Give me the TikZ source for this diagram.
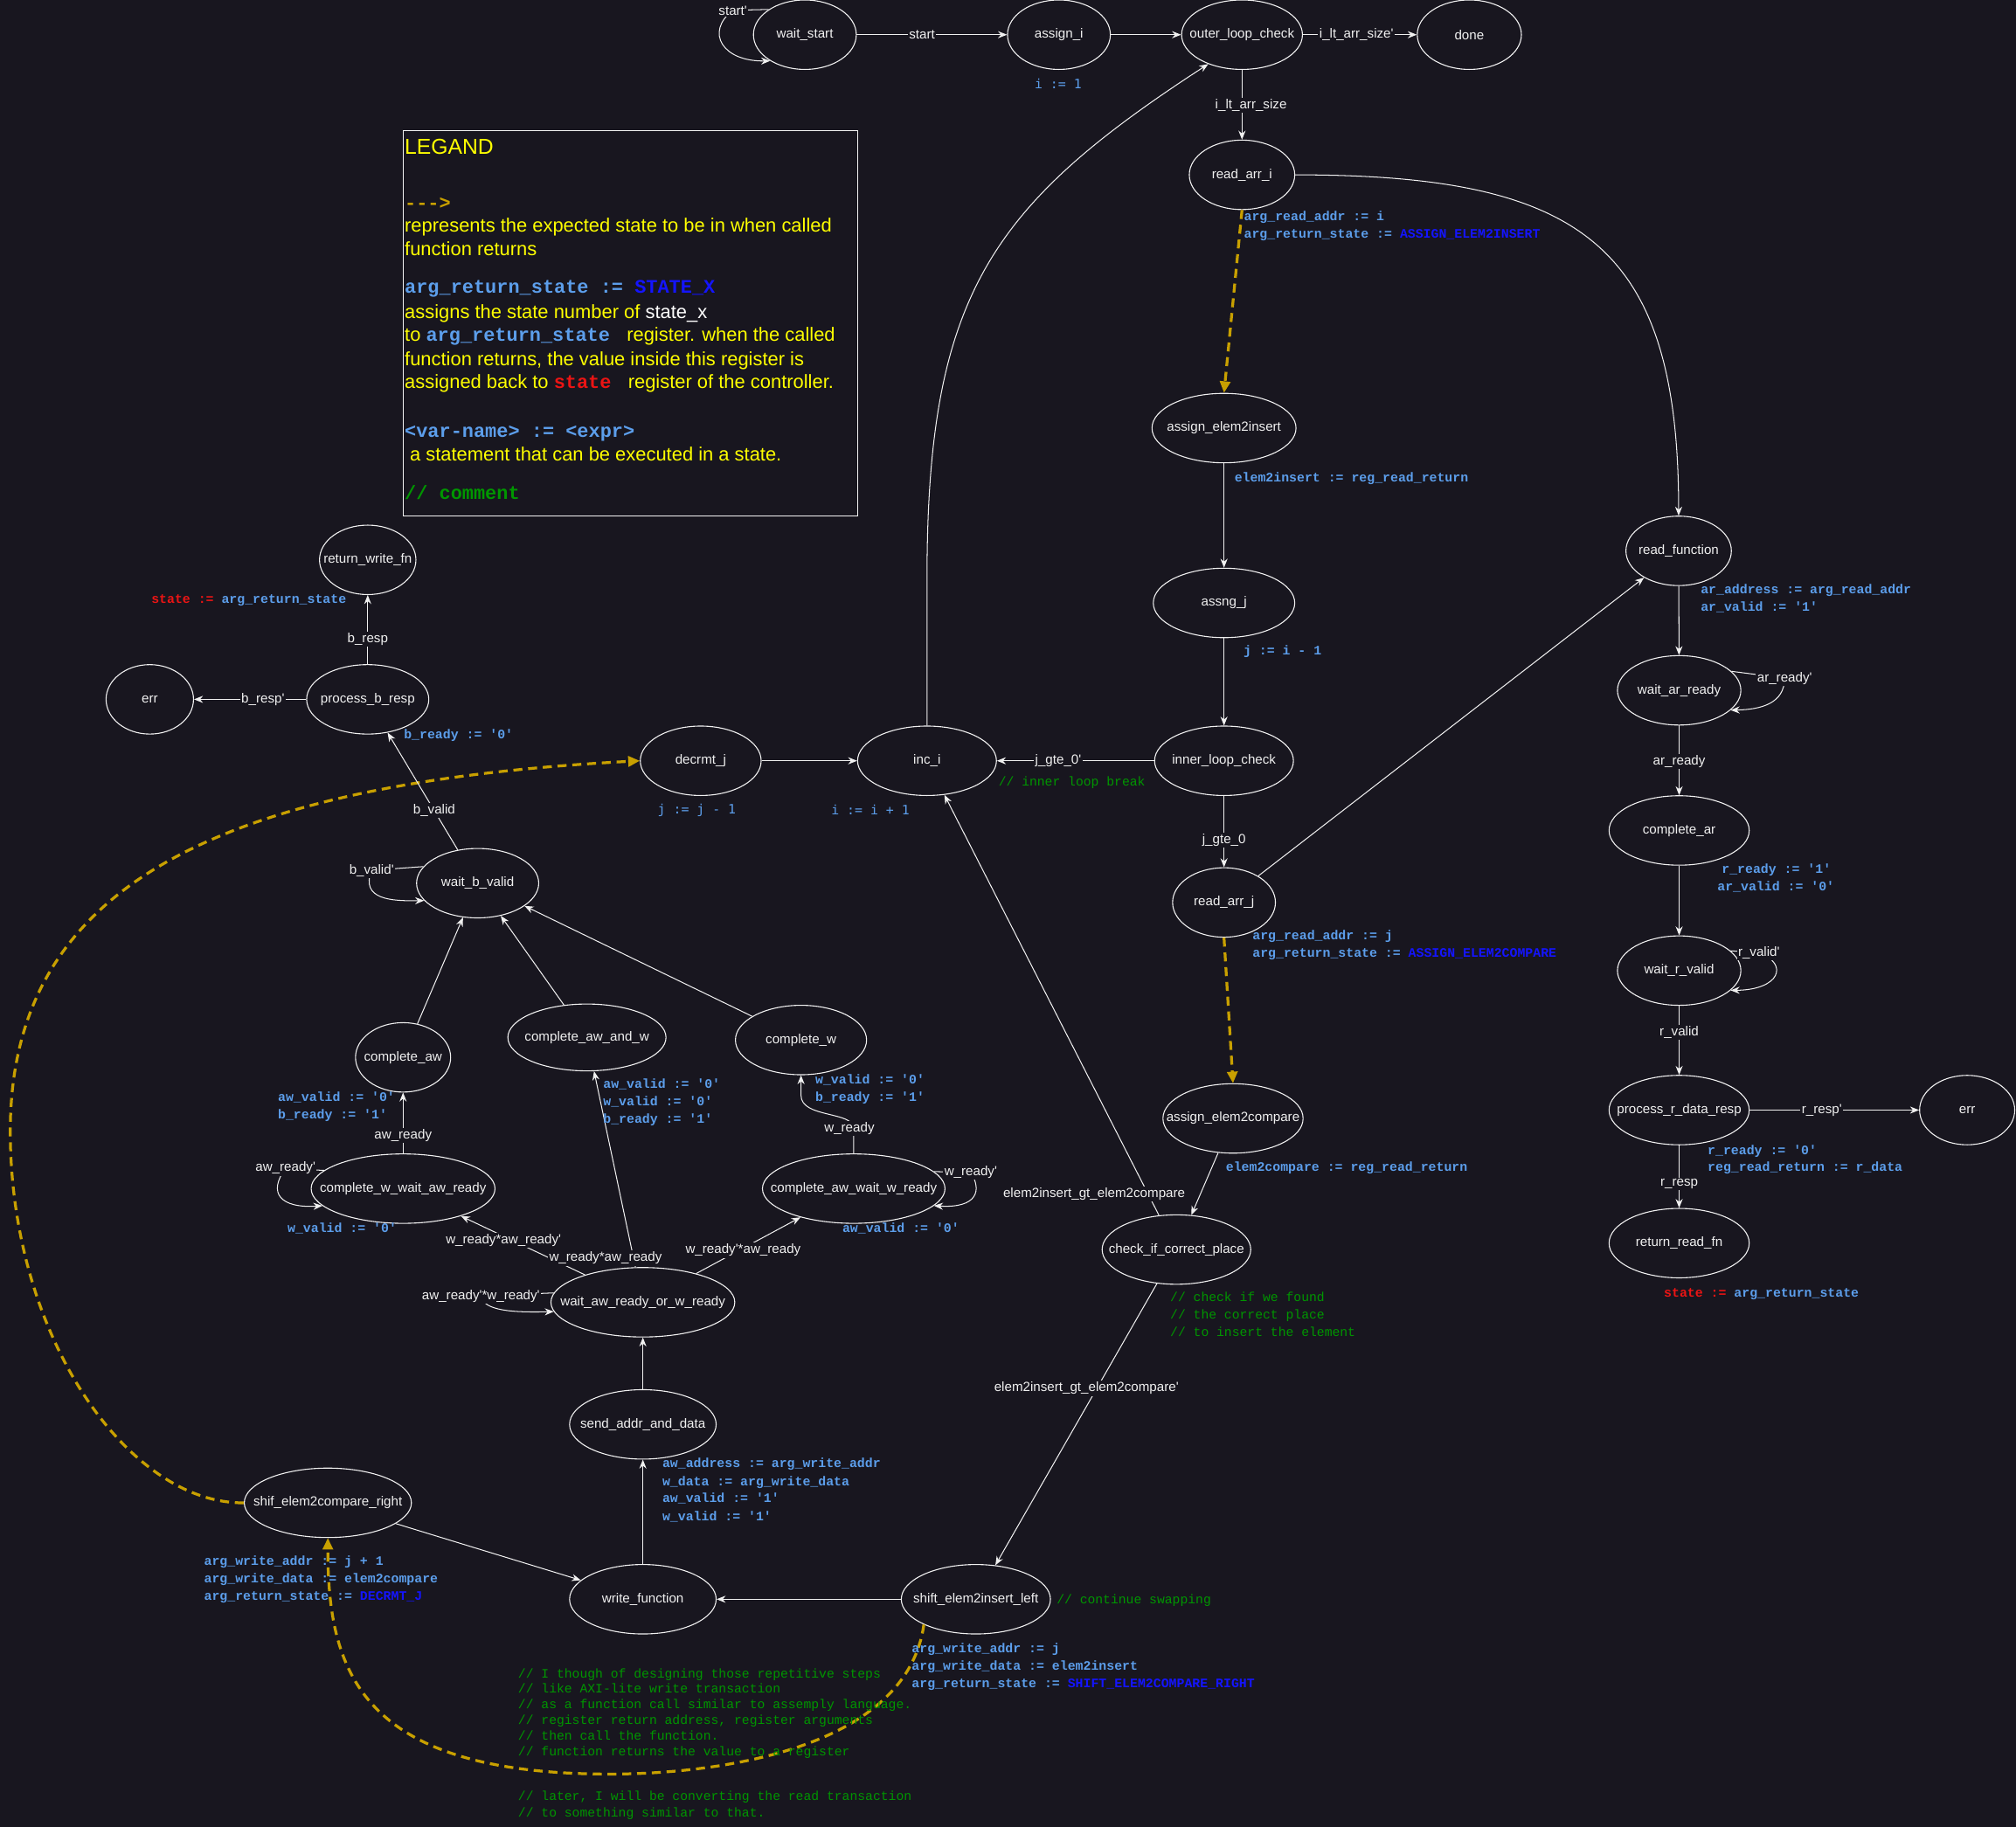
\documentclass[tikz,border=0pt]{standalone}
\usepackage{fontspec}
\setmainfont{Liberation Sans}
\newfontfamily\lmono{Liberation Mono}
\newfontfamily\dmono{DejaVu Sans Mono}
\usetikzlibrary{shapes.geometric,arrows.meta}

\definecolor{bg}{RGB}{24,22,31}
\definecolor{fg}{RGB}{240,240,240}
\definecolor{kblue}{RGB}{92,158,235}
\definecolor{kdblue}{RGB}{20,20,255}
\definecolor{kred}{RGB}{235,20,20}
\definecolor{kgreen}{RGB}{0,150,0}
\definecolor{kgold}{RGB}{200,160,0}
\definecolor{kyellow}{RGB}{255,255,0}

\newcommand\q{\textquotesingle}
\newcommand\zw[1]{\makebox[0pt]{#1}}
\newcommand\lblfont{\fontsize{10.3pt}{12pt}\selectfont}
\newcommand\annfont{\lmono\bfseries\fontsize{10.1pt}{12pt}\selectfont}
\newcommand\cmtfont{\lmono\fontsize{10pt}{12pt}\selectfont}
\newcommand\dmfont{\dmono\fontsize{10.1pt}{12pt}\selectfont}
\newcommand\legfont{\fontsize{14.9pt}{17pt}\selectfont}
\newcommand\legmono{\lmono\bfseries\fontsize{14.9pt}{17pt}\selectfont}
\newcommand\dbl[1]{{\color{kdblue}#1}}

\tikzset{
  st/.style={ellipse, draw=fg, line width=0.75pt, text=fg, font=\lblfont, inner sep=0pt},
  el/.style={fill=bg, text=fg, font=\lblfont, inner sep=1pt},
  ar/.style={draw=fg, line width=0.7pt, -{Stealth[length=7pt,width=5.5pt]}},
  fn/.style={draw=kgold, line width=2.2pt, dash pattern=on 7pt off 4.5pt,
             -{Triangle[length=9pt,width=8pt]}},
  ann/.style={anchor=mid west, inner sep=0pt, font=\annfont, text=kblue},
  cmt/.style={anchor=mid west, inner sep=0pt, font=\cmtfont, text=kgreen},
  leg/.style={anchor=mid west, inner sep=0pt, font=\legfont, text=kyellow},
}

\begin{document}
\begin{tikzpicture}[x=1pt,y=-1pt]
\fill[bg] (0,0) rectangle (1568,1421);
\useasboundingbox (0,0) rectangle (1568,1421);

% ---------- states ----------
\node[st, minimum width=80pt,  minimum height=54pt] (ws)    at (626,27)      {\zw{wait\_start}};
\node[st, minimum width=80pt,  minimum height=54pt] (asi)   at (823.6,27)    {\zw{assign\_i}};
\node[st, minimum width=94pt,  minimum height=54pt] (olc)   at (966,27)      {\zw{outer\_loop\_check}};
\node[st, minimum width=81pt,  minimum height=54pt] (done)  at (1142.8,27)   {\zw{done}};
\node[st, minimum width=82pt,  minimum height=54pt] (rai)   at (966,136)     {\zw{read\_arr\_i}};
\node[st, minimum width=112pt, minimum height=54pt] (ae2i)  at (952,333)     {\zw{assign\_elem2insert}};
\node[st, minimum width=110pt, minimum height=54pt] (asj)   at (952,469)     {\zw{assng\_j}};
\node[st, minimum width=108pt, minimum height=54pt] (ilc)   at (952,591.8)   {\zw{inner\_loop\_check}};
\node[st, minimum width=80pt,  minimum height=54pt] (raj)   at (952,702)     {\zw{read\_arr\_j}};
\node[st, minimum width=109pt, minimum height=54pt] (ae2c)  at (959,870)     {\zw{assign\_elem2compare}};
\node[st, minimum width=115.6pt, minimum height=54pt] (chk) at (915,972)     {\zw{check\_if\_correct\_place}};
\node[st, minimum width=116pt, minimum height=54pt] (sel)   at (759,1244)    {\zw{shift\_elem2insert\_left}};
\node[st, minimum width=114pt, minimum height=54pt] (wf)    at (500,1244)    {\zw{write\_function}};
\node[st, minimum width=130pt, minimum height=54pt] (ser)   at (255,1169)    {\zw{shif\_elem2compare\_right}};
\node[st, minimum width=114pt, minimum height=54pt] (sad)   at (500,1108)    {\zw{send\_addr\_and\_data}};
\node[st, minimum width=143pt, minimum height=54pt] (wa)    at (500,1013)    {\zw{wait\_aw\_ready\_or\_w\_ready}};
\node[st, minimum width=143pt, minimum height=54pt] (cwwar) at (313.5,924.6) {\zw{complete\_w\_wait\_aw\_ready}};
\node[st, minimum width=142pt, minimum height=54pt] (cawwr) at (664,924.6)   {\zw{complete\_aw\_wait\_w\_ready}};
\node[st, minimum width=74pt,  minimum height=54pt] (caw)   at (313.5,822.5) {\zw{complete\_aw}};
\node[st, minimum width=123pt, minimum height=52pt] (cawaw) at (456.5,807)   {\zw{complete\_aw\_and\_w}};
\node[st, minimum width=102pt, minimum height=54pt] (cw)    at (623,809)     {\zw{complete\_w}};
\node[st, minimum width=95pt,  minimum height=54pt] (wbv)   at (371.5,687)   {\zw{wait\_b\_valid}};
\node[st, minimum width=95pt,  minimum height=54pt] (pbr)   at (286,544)     {\zw{process\_b\_resp}};
\node[st, minimum width=75pt,  minimum height=54pt] (rwf)   at (286,435.5)   {\zw{return\_write\_fn}};
\node[st, minimum width=68pt,  minimum height=54pt] (errw)  at (116.5,544)   {\zw{err}};
\node[st, minimum width=94pt,  minimum height=54pt] (dj)    at (545,591.8)   {\zw{decrmt\_j}};
\node[st, minimum width=108pt, minimum height=54pt] (inc)   at (721,591.8)   {\zw{inc\_i}};
\node[st, minimum width=82pt,  minimum height=54pt] (rf)    at (1305.6,428.5){\zw{read\_function}};
\node[st, minimum width=96pt,  minimum height=54pt] (war)   at (1306,537)    {\zw{wait\_ar\_ready}};
\node[st, minimum width=109pt, minimum height=54pt] (car)   at (1306,646)    {\zw{complete\_ar}};
\node[st, minimum width=96pt,  minimum height=54pt] (wrv)   at (1306,755)    {\zw{wait\_r\_valid}};
\node[st, minimum width=109pt, minimum height=54pt] (prd)   at (1306,863.5)  {\zw{process\_r\_data\_resp}};
\node[st, minimum width=74pt,  minimum height=54pt] (errr)  at (1530,863.5)  {\zw{err}};
\node[st, minimum width=109pt, minimum height=54pt] (rrf)   at (1306,967)    {\zw{return\_read\_fn}};

% ---------- main control flow ----------
\draw[ar] (ws.145) -- (570,8) .. controls (548,25) and (562,48) .. (ws.217);
\node[el] (lstart) at (570,8.6) {start\q};
\draw[ar] (ws) -- node[el, pos=0.434] {start} (asi);
\draw[ar] (asi) -- (olc);
\draw[ar] (olc) -- node[el, pos=0.47] {i\_lt\_arr\_size\q} (done);
\draw[ar] (olc) -- (rai);
\node[el] (lltarr) at (973,82) {i\_lt\_arr\_size};
\draw[ar] (rai.east) .. controls (1230,136) and (1305.6,190) .. (rf.north);
\draw[fn] (rai.south) -- (ae2i.north);
\draw[ar] (ae2i) -- (asj);
\draw[ar] (asj) -- (ilc);
\draw[ar] (ilc) -- node[el, pos=0.61] {j\_gte\_0\q} (inc);
\draw[ar] (ilc) -- node[el, pos=0.62] {j\_gte\_0} (raj);
\draw[ar] (raj) -- (rf);
\draw[fn] (raj.south) -- (ae2c.north);
\draw[ar] (ae2c) -- (chk);
\draw[ar] (chk) -- (inc);
\node[el] (lgt) at (851,929) {elem2insert\_gt\_elem2compare};
\draw[ar] (chk) -- (sel);
\node[el] (lngt) at (845,1080) {elem2insert\_gt\_elem2compare\q};
\draw[ar] (sel) -- (wf);
\draw[fn] (sel.206) .. controls (705,1360) and (560,1380) .. (474,1380)
                    .. controls (280,1380) and (255,1300) .. (ser.south);
\draw[ar] (ser) -- (wf);
\draw[fn] (ser.west) .. controls (100,1170) and (8,1040) .. (8,880)
                     .. controls (8,700) and (150,610) .. (dj.west);
\draw[ar] (dj) -- (inc);
\draw[ar] (inc.north) -- (721,450) .. controls (721,230) and (770,160) .. (olc.221.6);

% ---------- write function ----------
\draw[ar] (wf) -- (sad);
\draw[ar] (sad) -- (wa);
\draw[ar] (wa.174) -- (374,1008) .. controls (376,1020) and (400,1021) .. (wa.186);
\node[el] (lwa) at (374,1008) {aw\_ready\q*w\_ready\q};
\draw[ar] (wa) -- (cwwar);
\node[el] (lwa1) at (391.6,964.5) {w\_ready*aw\_ready\q};
\draw[ar] (wa) -- (cawaw);
\node[el] (lwa2) at (471,978.7) {w\_ready*aw\_ready};
\draw[ar] (wa) -- (cawwr);
\node[el] (lwa3) at (578,972.6) {w\_ready\q*aw\_ready};
\draw[ar] (cwwar.167) -- (222,909) .. controls (208,928) and (218,940) .. (cwwar.192);
\node[el] (lcw) at (222,908.7) {aw\_ready\q};
\draw[ar] (cwwar) -- node[el, pos=0.295] {aw\_ready} (caw);
\draw[ar] (cawwr.12.5) -- (755,912) .. controls (764,926) and (760,940) .. (cawwr.348);
\node[el] (lca) at (755,912) {w\_ready\q};
\draw[ar] (cawwr.north) -- (664,878) .. controls (664,864) and (623,870) .. (623,852) -- (cw.south);
\node[el] (lwr) at (660.6,878) {w\_ready};
\draw[ar] (caw) -- (wbv);
\draw[ar] (cawaw) -- (wbv);
\draw[ar] (cw) -- (wbv);
\draw[ar] (wbv.163) -- (289,677) .. controls (280,700) and (305,701) .. (wbv.198);
\node[el] (lbv) at (289,677) {b\_valid\q};
\draw[ar] (wbv) -- node[el, pos=0.336] {b\_valid} (pbr);
\draw[ar] (pbr) -- node[el, pos=0.367] {b\_resp} (rwf);
\draw[ar] (pbr) -- node[el, pos=0.386] {b\_resp\q} (errw);

% ---------- read function ----------
\draw[ar] (rf) -- (war);
\draw[ar] (war.20.6) -- (1388,527.5) .. controls (1388,547) and (1370,552) .. (war.339);
\node[el] (lar) at (1388,527.5) {ar\_ready\q};
\draw[ar] (war) -- node[el, pos=0.52] {ar\_ready} (car);
\draw[ar] (car) -- (wrv);
\draw[ar] (wrv.21) -- (1368,741) .. controls (1392,750) and (1384,770) .. (wrv.339);
\node[el] (lrv) at (1368,741) {r\_valid\q};
\draw[ar] (wrv) -- node[el, pos=0.39] {r\_valid} (prd);
\draw[ar] (prd) -- node[el, pos=0.426] {r\_resp\q} (errr);
\draw[ar] (prd) -- node[el, pos=0.616] {r\_resp} (rrf);

% ---------- state actions ----------
\node[font=\dmfont, text=kblue, inner sep=0pt] (t1) at (823,65) {i := 1};
\node[ann] (t2) at (967.4,168.8) {arg\_read\_addr := i};
\node[ann] (t3) at (967.4,182.4) {arg\_return\_state := \dbl{ASSIGN\_ELEM2INSERT}};
\node[ann] (t4) at (960,372) {elem2insert := reg\_read\_return};
\node[ann] (t5) at (967,507) {j := i - 1};
\node[font=\dmfont, text=kblue, inner sep=0pt] (t6) at (542,630) {j := j - 1};
\node[font=\dmfont, text=kblue, inner sep=0pt] (t7) at (677,630) {i := i + 1};
\node[cmt] (t8) at (776.5,609) {// inner loop break};
\node[ann] (t9) at (974,728.4) {arg\_read\_addr := j};
\node[ann] (t10) at (974,742) {arg\_return\_state := \dbl{ASSIGN\_ELEM2COMPARE}};
\node[ann] (t11) at (953.3,908.7) {elem2compare := reg\_read\_return};
\node[cmt] (t12) at (910,1010) {// check if we found};
\node[cmt] (t13) at (910,1023.6) {// the correct place};
\node[cmt] (t14) at (910,1037) {// to insert the element};
\node[ann] (t15) at (709,1282.8) {arg\_write\_addr := j};
\node[ann] (t16) at (709,1296.4) {arg\_write\_data := elem2insert};
\node[ann] (t17) at (709,1310) {arg\_return\_state := \dbl{SHIFT\_ELEM2COMPARE\_RIGHT}};
\node[cmt] (t18) at (821.7,1245) {// continue swapping};
\node[ann] (t19) at (158.6,1215) {arg\_write\_addr := j + 1};
\node[ann] (t20) at (158.6,1228.6) {arg\_write\_data := elem2compare};
\node[ann] (t21) at (158.6,1242.2) {arg\_return\_state := \dbl{DECRMT\_J}};
\node[ann] (t22) at (515,1139) {aw\_address := arg\_write\_addr};
\node[ann] (t23) at (515,1153) {w\_data := arg\_write\_data};
\node[ann] (t24) at (515,1166) {aw\_valid := \q1\q};
\node[ann] (t25) at (515,1180) {w\_valid := \q1\q};
\node[ann] (t26) at (216,854) {aw\_valid := \q0\q};
\node[ann] (t27) at (216,868) {b\_ready := \q1\q};
\node[ann] (t28) at (223.5,956) {w\_valid := \q0\q};
\node[ann] (t29) at (469,844) {aw\_valid := \q0\q};
\node[ann] (t30) at (469,857.7) {w\_valid := \q0\q};
\node[ann] (t31) at (469,871) {b\_ready := \q1\q};
\node[ann] (t32) at (634,840.7) {w\_valid := \q0\q};
\node[ann] (t33) at (634,854) {b\_ready := \q1\q};
\node[ann] (t34) at (655,956) {aw\_valid := \q0\q};
\node[ann] (t35) at (314,572) {b\_ready := \q0\q};
\node[ann] (t36) at (117.6,467) {{\color{kred}state :=} arg\_return\_state};
\node[ann] (t37) at (1322.6,459.5) {ar\_address := arg\_read\_addr};
\node[ann] (t38) at (1322.6,473) {ar\_valid := \q1\q};
\node[ann] (t39) at (1339,677) {r\_ready := \q1\q};
\node[ann] (t40) at (1335.6,690.6) {ar\_valid := \q0\q};
\node[ann] (t41) at (1328,895.5) {r\_ready := \q0\q};
\node[ann] (t42) at (1328,908.7) {reg\_read\_return := r\_data};
\node[ann] (t43) at (1294,1006) {{\color{kred}state :=} arg\_return\_state};

% ---------- notes at the bottom ----------
\node[cmt] (c1) at (402.8,1302.5) {// I though of designing those repetitive steps};
\node[cmt] (c2) at (402.8,1314.5) {// like AXI-lite write transaction};
\node[cmt] (c3) at (402.8,1326.7) {// as a function call similar to assemply language.};
\node[cmt] (c4) at (402.8,1339) {// register return address, register arguments};
\node[cmt] (c5) at (402.8,1351) {// then call the function.};
\node[cmt] (c6) at (402.8,1363.4) {// function returns the value to a register};
\node[cmt] (c7) at (402.8,1397.6) {// later, I will be converting the read transaction};
\node[cmt] (c8) at (402.8,1411) {// to something similar to that.};

% ---------- legend ----------
\node[draw=fg!80, line width=0.7pt, anchor=north west, minimum width=353.2pt,
      minimum height=300pt, inner sep=0pt] (legend) at (313.3,101) {};
\node[leg, font=\fontsize{16.8pt}{19pt}\selectfont] (g1) at (314.6,117) {LEGAND};
\node[leg, font=\legmono, text=kgold] (g2) at (314.6,160) {-{}-{}->};
\node[leg] (g3) at (314.6,178) {represents the expected state to be in when called};
\node[leg] (g4) at (314.6,196.2) {function returns};
\node[leg, font=\legmono, text=kblue] (g5) at (314.6,225.7) {arg\_return\_state := \dbl{STATE\_X}};
\node[leg] (g6) at (314.6,244.9) {assigns the state number of {\color{white}state\_x}};
\node[leg] (g7) at (314.6,262.6) {to {\legmono\color{kblue}arg\_return\_state\ }\ register. when the called};
\node[leg] (g8) at (314.6,281.9) {function returns, the value inside this register is};
\node[leg] (g9) at (314.6,299.7) {assigned back to {\legmono\color{kred}state\ }\ register of the controller.};
\node[leg, font=\legmono, text=kblue] (g10) at (314.6,337.3) {<var-name> := <expr>};
\node[leg] (g11) at (314.6,355.9) {\hspace*{4pt}a statement that can be executed in a state.};
\node[leg, font=\legmono, text=kgreen] (g12) at (314.6,385.8) {// comment};
\end{tikzpicture}
\end{document}
